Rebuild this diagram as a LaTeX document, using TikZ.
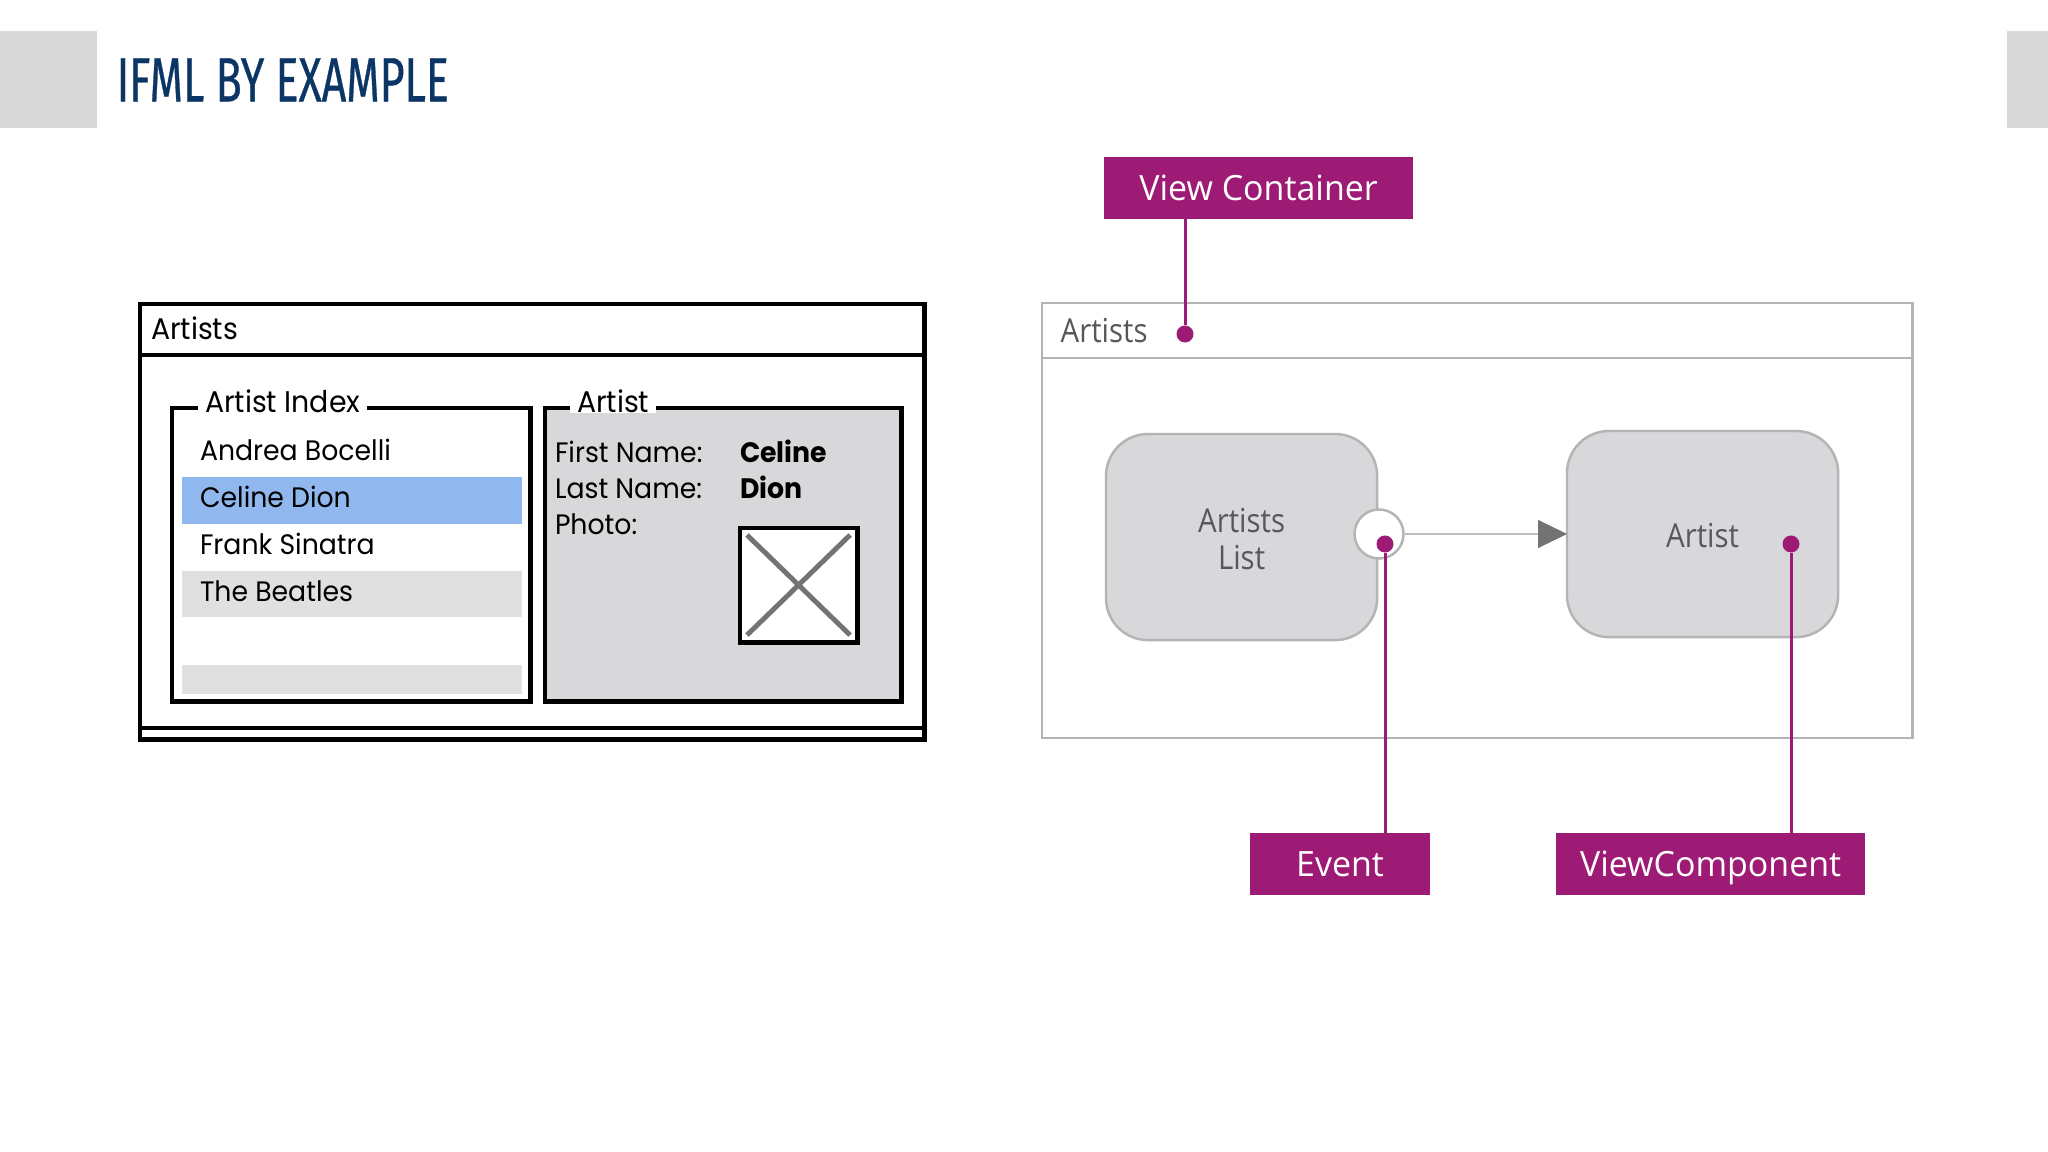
\documentclass[tikz,border=0pt]{standalone}
\usepackage{fontspec}
\setmainfont{Open Sans}
\newfontfamily\titlefont[FakeStretch=0.685,FakeBold=0.5]{Fira Sans}
\newfontfamily\sketchfont[FakeStretch=0.95]{Poppins}
\newfontfamily\compfont[FakeStretch=0.89]{Open Sans}
\newfontfamily\calloutfont[FakeStretch=0.975]{Open Sans}
\usetikzlibrary{arrows.meta}
\definecolor{magentaA}{HTML}{9E1B75}
\definecolor{navyA}{HTML}{0B3565}
\definecolor{tabA}{HTML}{D9D9D9}
\definecolor{lineA}{HTML}{B4B4B6}
\definecolor{compA}{HTML}{D8D8DB}
\definecolor{textA}{HTML}{58585A}
\definecolor{rowblue}{HTML}{90B7EE}
\definecolor{rowgrey}{HTML}{E0E0E1}
\newcommand{\lowtext}[1]{\raisebox{-0.55pt}[\height][\depth]{#1}}
\tikzset{
  box/.style={rectangle,inner sep=0pt,outer sep=0pt},
  tab/.style={box,fill=tabA},
  callout/.style={box,fill=magentaA,text=white,minimum height=.62cm,text height=.25cm,text depth=0pt,font=\calloutfont\fontsize{9.9}{12}\selectfont},
  calline/.style={draw=magentaA,line width=.85pt},
  dot/.style={circle,fill=magentaA,inner sep=0pt,minimum size=.17cm},
  frame/.style={box,draw=lineA,line width=.7pt},
  comp/.style={box,draw=lineA,line width=.7pt,fill=compA,rounded corners=.42cm,minimum width=2.71cm,minimum height=2.06cm,text=textA,align=center,font=\compfont\fontsize{9.4}{10.7}\selectfont},
  wire/.style={box,draw=black,line width=1.4pt},
  sk/.style={inner sep=0pt,outer sep=0pt,anchor=mid west,font=\sketchfont\fontsize{8}{9.6}\selectfont},
  skl/.style={sk,font=\sketchfont\fontsize{8.5}{10}\selectfont},
  skb/.style={sk,font=\sketchfont\bfseries\fontsize{8}{9.6}\selectfont},
  row/.style={box,minimum width=3.40cm,anchor=north west},
  cross/.style={draw=black!55,line width=1.4pt},
}
\begin{document}
\begin{tikzpicture}[x=.01cm,y=-.01cm]
\useasboundingbox (0,0) rectangle (2048,1152);
\fill[white] (0,0) rectangle (2048,1152);
% header
\node[tab,anchor=north west,minimum width=.97cm,minimum height=.97cm] (tabL) at (0,31) {};
\node[tab,anchor=north east,minimum width=.41cm,minimum height=.97cm] (tabR) at (2048,31) {};
\node[anchor=mid west,inner sep=0pt,text=navyA,font=\titlefont\fontsize{17.8}{20}\selectfont] (title) at (116,92) {IFML BY EXAMPLE};
% wireframe
\node[wire,anchor=north west,minimum width=7.84cm,minimum height=4.35cm] (win) at (140,304) {};
\node[wire,anchor=north west,minimum width=7.84cm,minimum height=.51cm] (winbar) at (140,304) {};
\node[skl] (wintitle) at (151,330) {Artists};
\coordinate (statusL) at (140,728);
\coordinate (statusR) at (924,728);
\draw[black,line width=1pt] (statusL) -- (statusR);
\node[wire,anchor=north west,minimum width=3.58cm,minimum height=2.93cm] (idx) at (172,408) {};
\node[wire,anchor=north west,minimum width=3.56cm,minimum height=2.93cm,fill=compA] (det) at (545,408) {};
\node[skl,fill=white,inner xsep=.07cm] (idxlab) at (198,403) {Artist Index};
\node[skl,fill=white,inner xsep=.07cm] (detlab) at (570,403) {Artist};
\node[row,fill=rowblue,minimum height=.47cm] (rowB) at (182,477) {};
\node[row,fill=rowgrey,minimum height=.46cm] (rowD) at (182,571) {};
\node[row,fill=rowgrey,minimum height=.29cm] (rowF) at (182,665) {};
\node[sk] (t1) at (200,451) {Andrea Bocelli};
\node[sk] (t2) at (200,498) {Celine Dion};
\node[sk] (t3) at (200,545) {Frank Sinatra};
\node[sk] (t4) at (200,592) {The Beatles};
\node[sk] (d1) at (555,453) {First Name:};
\node[sk] (d2) at (555,489) {Last Name:};
\node[sk] (d3) at (555,525) {Photo:};
\node[skb] (d4) at (740,453) {Celine};
\node[skb] (d5) at (740,489) {Dion};
\node[wire,anchor=north west,fill=white,minimum width=1.17cm,minimum height=1.14cm] (img) at (740,528) {};
\draw[cross] ([shift={(7,7)}]img.north west) -- ([shift={(-7,-7)}]img.south east);
\draw[cross] ([shift={(-7,7)}]img.north east) -- ([shift={(7,-7)}]img.south west);
% IFML
\node[frame,anchor=north west,minimum width=8.70cm,minimum height=4.35cm] (vc) at (1042,303) {};
\node[frame,anchor=north west,minimum width=8.70cm,minimum height=.55cm] (vcbar) at (1042,303) {};
\node[inner sep=0pt,anchor=mid west,text=textA,font=\compfont\fontsize{9.4}{11}\selectfont] (vctitle) at (1060,333) {Artists};
\node[comp,anchor=north west] (list) at (1106,434) {\lowtext{Artists}\\\lowtext{List}};
\node[comp,anchor=north west] (artist) at (1567,431) {\lowtext{Artist}};
\node[circle,draw=lineA,line width=.7pt,fill=white,minimum size=.49cm,inner sep=0pt] (evt) at (1379,534) {};
\draw[draw=black!25,line width=.3pt,-{Triangle[length=.29cm,width=.28cm,color=black!55,fill=black!55]}] (evt.east) -- (evt.east -| artist.west);
\node[dot] (dotV) at (1185,334) {};
\node[dot] (dotE) at (1385,544) {};
\node[dot] (dotC) at (1791,544) {};
\node[callout,anchor=north west,minimum width=3.09cm] (cV) at (1104,157) {View Container};
\node[callout,anchor=north west,minimum width=1.80cm] (cE) at (1250,833) {Event};
\node[callout,anchor=north west,minimum width=3.09cm] (cC) at (1556,833) {ViewComponent};
\draw[calline] (cV.south -| dotV) -- (dotV);
\draw[calline] (cE.north -| dotE) -- (dotE);
\draw[calline] (cC.north -| dotC) -- (dotC);
\end{tikzpicture}
\end{document}
